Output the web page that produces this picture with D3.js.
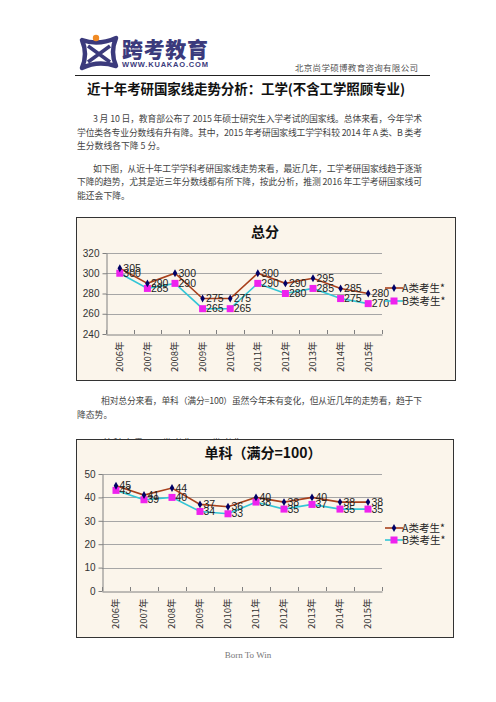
<!DOCTYPE html>
<html>
<head>
<meta charset="utf-8">
<script src="https://cdn.jsdelivr.net/npm/d3@7"></script>
<style>
  html, body { margin: 0; padding: 0; background: #fff; }
  svg { display: block; }
</style>
</head>
<body>
<svg id="page" width="496" height="702"></svg>
<script>
// data
const years = ['2006年','2007年','2008年','2009年','2010年','2011年','2012年','2013年','2014年','2015年'];
const totalA = [305, 290, 300, 275, 275, 300, 290, 295, 285, 280];
const totalB = [300, 285, 290, 265, 265, 290, 280, 285, 275, 270];
const singleA = [45, 41, 44, 37, 36, 40, 38, 40, 38, 38];
const singleB = [43, 39, 40, 34, 33, 38, 35, 37, 35, 35];
const totalTicks = [240, 260, 280, 300, 320];
const singleTicks = [0, 10, 20, 30, 40, 50];
const seriesNames = ['A类考生*', 'B类考生*'];

const cjk = '"Noto Sans CJK SC", sans-serif';
const num = '"Liberation Sans", Arial, sans-serif';

let svg = d3.select('#page');

// ---- header / logo ----
let logo = svg.append('g');
logo.append('path')
    .attr('d', 'M82,40 Q98,46 116,38 Q110,52 116,66 Q98,60 82,68 Q88,54 82,40 Z')
    .attr('fill', 'none').attr('stroke', '#3b3a7c').attr('stroke-width', 4.5).attr('stroke-linejoin', 'round');
logo.append('path')
    .attr('d', 'M88,46 L110,62 M110,46 L88,62')
    .attr('stroke', '#3b3a7c').attr('stroke-width', 3.5);
logo.append('circle').attr('cx', 96).attr('cy', 38).attr('r', 3.2).attr('fill', '#f08a24');
logo.append('text').text('跨考教育')
    .attr('x', 122).attr('y', 57).attr('textLength', 86)
    .style('font-family', cjk).style('font-weight', 900).style('font-size', '21px').style('fill', '#3b3a7c');
logo.append('text').text('WWW.KUAKAO.COM')
    .attr('x', 122).attr('y', 67).attr('textLength', 86)
    .style('font-family', num).style('font-weight', 'bold').style('font-size', '7.5px').style('fill', '#3b3a7c');

svg.append('text').text('北京尚学硕博教育咨询有限公司')
    .attr('x', 418).attr('y', 71).attr('text-anchor', 'end').attr('textLength', 123)
    .style('font-family', cjk).style('font-size', '8.5px').style('fill', '#555');

svg.append('line').attr('x1', 75).attr('x2', 430).attr('y1', 75.5).attr('y2', 75.5)
    .attr('stroke', '#222').attr('stroke-width', 1);

svg.append('text').text('近十年考研国家线走势分析：工学(不含工学照顾专业)')
    .attr('x', 87).attr('y', 94).attr('textLength', 318)
    .style('font-family', cjk).style('font-weight', 'bold').style('font-size', '13.5px').style('fill', '#111');

// ---- body text ----
const bodyLines = [
  {t: '3 月 10 日，教育部公布了 2015 年硕士研究生入学考试的国家线。总体来看，今年学术', x: 93, y: 122, w: 329},
  {t: '学位类各专业分数线有升有降。其中，2015 年考研国家线工学学科较 2014 年 A 类、B 类考', x: 77, y: 135.5, w: 345},
  {t: '生分数线各下降 5 分。', x: 77, y: 149, w: 0},
  {t: '如下图，从近十年工学学科考研国家线走势来看，最近几年，工学考研国家线趋于逐渐', x: 93, y: 171.5, w: 329},
  {t: '下降的趋势，尤其是近三年分数线都有所下降，按此分析，推测 2016 年工学考研国家线可', x: 77, y: 185, w: 345},
  {t: '能还会下降。', x: 77, y: 198.5, w: 0},
  {t: '相对总分来看，单科（满分=100）虽然今年未有变化，但从近几年的走势看，趋于下', x: 101, y: 404, w: 321},
  {t: '降态势。', x: 77, y: 418, w: 0},
  {t: '从单科来看，A类考生、B类考生', x: 92, y: 446, w: 150}
];
svg.selectAll('.body').data(bodyLines).enter().append('text')
    .attr('class', 'body')
    .text(d => d.t)
    .attr('x', d => d.x).attr('y', d => d.y)
    .attr('textLength', d => d.w > 0 ? d.w : null)
    .style('font-family', cjk).style('font-size', '8.8px').style('fill', '#444');

svg.append('text').text('Born To Win')
    .attr('x', 248).attr('y', 658).attr('text-anchor', 'middle')
    .style('font-family', '"Liberation Serif", serif').style('font-size', '9px').style('fill', '#777');

// ---- charts ----
function drawChart(cfg) {
  let g = svg.append('g');
  g.append('rect')
      .attr('x', cfg.frame[0] + 0.5).attr('y', cfg.frame[1] + 0.5)
      .attr('width', cfg.frame[2] - cfg.frame[0]).attr('height', cfg.frame[3] - cfg.frame[1])
      .attr('fill', '#fbf5eb').attr('stroke', '#333').attr('stroke-width', 1);

  g.append('text').text(cfg.title)
      .attr('x', cfg.titleX).attr('y', cfg.titleY).attr('text-anchor', 'middle')
      .style('font-family', cjk).style('font-weight', 'bold').style('font-size', '14px').style('fill', '#111');

  let xScale = d3.scaleBand().domain(years).range([cfg.left, cfg.right]);
  let yScale = d3.scaleLinear().domain(cfg.domain).range([cfg.bottom, cfg.top]);

  // gridlines
  g.selectAll('.grid').data(cfg.ticks.slice(1)).enter().append('line')
      .attr('x1', cfg.left).attr('x2', cfg.right)
      .attr('y1', d => Math.round(yScale(d)) + 0.5).attr('y2', d => Math.round(yScale(d)) + 0.5)
      .attr('stroke', '#a6a6a6').attr('stroke-width', 1);

  // y axis
  let yAxis = d3.axisLeft(yScale).tickValues(cfg.ticks).tickSize(4).tickSizeOuter(0).tickPadding(3);
  let ya = g.append('g').attr('transform', 'translate(' + (cfg.left + 0.5) + ',0)').call(yAxis);
  ya.select('.domain').attr('stroke', '#808080');
  ya.selectAll('.tick line').attr('stroke', '#808080');
  ya.selectAll('.tick text').style('font-family', num).style('font-size', '10px').style('fill', '#333');

  // x axis
  let xAxis = d3.axisBottom(xScale).tickSize(0).tickPadding(0);
  let xa = g.append('g').attr('transform', 'translate(0,' + (cfg.bottom + 0.5) + ')').call(xAxis);
  xa.select('.domain').attr('stroke', '#808080');
  xa.selectAll('.tick text')
      .attr('transform', 'rotate(-90)')
      .attr('x', -7).attr('y', 0).attr('dy', '0.35em')
      .style('text-anchor', 'end')
      .style('font-family', cjk).style('font-size', '9.5px').style('fill', '#333');
  // boundary ticks
  g.selectAll('.xtick').data(years.concat(['end'])).enter().append('line')
      .attr('x1', (d, i) => Math.round(cfg.left + i * xScale.bandwidth()) + 0.5)
      .attr('x2', (d, i) => Math.round(cfg.left + i * xScale.bandwidth()) + 0.5)
      .attr('y1', cfg.bottom - 4).attr('y2', cfg.bottom)
      .attr('stroke', '#808080');

  let cx = i => xScale(years[i]) + xScale.bandwidth() / 2;
  let line = d3.line().x((d, i) => cx(i)).y(d => yScale(d));

  // series B (drawn below)
  g.append('path').datum(cfg.b).attr('d', line)
      .attr('fill', 'none').attr('stroke', '#33c6d6').attr('stroke-width', 1.6);
  g.append('path').datum(cfg.a).attr('d', line)
      .attr('fill', 'none').attr('stroke', '#a8401c').attr('stroke-width', 1.6);

  g.selectAll('.mb').data(cfg.b).enter().append('rect')
      .attr('x', (d, i) => cx(i) - 3.5).attr('y', d => yScale(d) - 3.5)
      .attr('width', 7).attr('height', 7).attr('fill', '#ee22ee');
  g.selectAll('.ma').data(cfg.a).enter().append('path')
      .attr('d', d3.symbol().type(d3.symbolDiamond).size(18))
      .attr('transform', (d, i) => 'translate(' + cx(i) + ',' + yScale(d) + ')')
      .attr('fill', '#000066');

  // data labels
  [cfg.b, cfg.a].forEach(s => {
    g.selectAll(null).data(s).enter().append('text')
        .text(d => d)
        .attr('x', (d, i) => cx(i) + 3.5).attr('y', d => yScale(d)).attr('dy', '0.35em')
        .style('font-family', num).style('font-size', '10.5px').style('fill', '#222');
  });

  // legend
  let leg = [
    {name: seriesNames[0], y: cfg.legY[0], c: '#a8401c', m: 'a'},
    {name: seriesNames[1], y: cfg.legY[1], c: '#33c6d6', m: 'b'}
  ];
  leg.forEach(l => {
    g.append('line').attr('x1', 385).attr('x2', 403).attr('y1', l.y).attr('y2', l.y)
        .attr('stroke', l.c).attr('stroke-width', 1.6);
    if (l.m === 'a') {
      g.append('path').attr('d', d3.symbol().type(d3.symbolDiamond).size(18))
          .attr('transform', 'translate(394,' + l.y + ')').attr('fill', '#000066');
    } else {
      g.append('rect').attr('x', 390.5).attr('y', l.y - 3.5).attr('width', 7).attr('height', 7).attr('fill', '#ee22ee');
    }
    g.append('text').text(l.name)
        .attr('x', 402).attr('y', l.y).attr('dy', '0.36em')
        .style('font-family', cjk).style('font-size', '10.5px').style('fill', '#222');
  });
}

drawChart({
  title: '总分', titleX: 265, titleY: 237,
  frame: [76, 217, 455, 380],
  left: 106, right: 382, top: 253, bottom: 334,
  domain: [240, 320], ticks: totalTicks,
  a: totalA, b: totalB, legY: [288, 301]
});

drawChart({
  title: '单科（满分=100）', titleX: 263, titleY: 458,
  frame: [76, 439, 453, 637],
  left: 102, right: 382, top: 474, bottom: 591,
  domain: [0, 50], ticks: singleTicks,
  a: singleA, b: singleB, legY: [528, 540]
});
</script>
</body>
</html>
